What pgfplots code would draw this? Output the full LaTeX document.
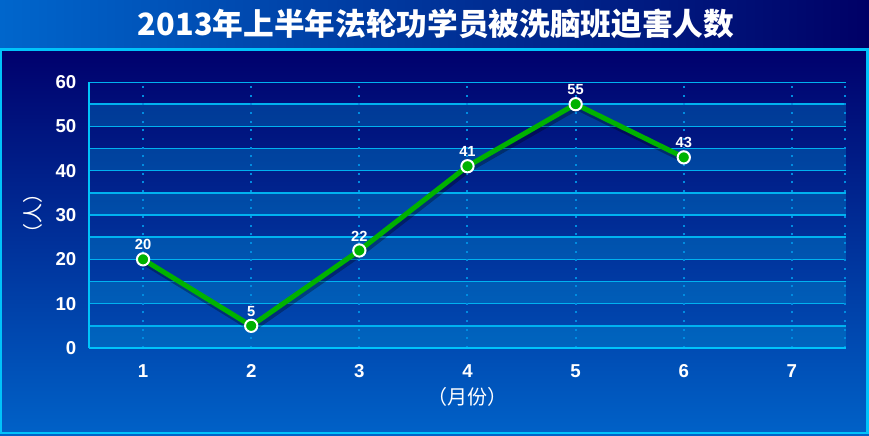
\documentclass[border=0pt]{standalone}
\usepackage{pgfplots}
\pgfplotsset{compat=1.18}
\usepackage{fontspec}
\setmainfont{Liberation Sans}
\newfontfamily\cjk{Noto Sans CJK SC}

\definecolor{titleL}{RGB}{0,102,204}
\definecolor{titleR}{RGB}{0,0,102}
\definecolor{panelT}{RGB}{0,0,108}
\definecolor{panelB}{RGB}{0,98,200}
\definecolor{edge}{RGB}{0,195,250}
\definecolor{gridc}{RGB}{0,178,240}
\definecolor{dotc}{RGB}{0,140,225}
\definecolor{bandc}{RGB}{0,160,220}
\definecolor{linec}{RGB}{0,178,0}

\begin{document}
\begin{tikzpicture}
  % page and background (1 px = 0.75 pt)
  \path[use as bounding box] (0pt,0pt) rectangle (651.75pt,327pt);
  \shade[left color=titleL, right color=titleR] (0pt,290.25pt) rectangle (651.75pt,327pt);
  \shade[top color=panelT, bottom color=panelB] (0pt,0pt) rectangle (651.75pt,290.25pt);
  \draw[edge, line width=1.6pt] (0.75pt,2.25pt) rectangle (650.6pt,289.9pt);
  \node[text=white, font=\cjk\bfseries\fontsize{23}{26}\selectfont] at (327pt,309pt) {2013年上半年法轮功学员被洗脑班迫害人数};

  \begin{axis}[
      at={(66.75pt,66pt)}, anchor=south west,
      scale only axis,
      width=567.75pt, height=199.5pt,
      xmin=0.5, xmax=7.5,
      ymin=0, ymax=60,
      xtick={1,...,7},
      ytick={0,10,...,60},
      axis x line*=bottom,
      axis y line*=left,
      axis line style={-, draw=edge, line width=2.2pt},
      axis on top,
      major tick length=0pt,
      /pgf/number format/assume math mode=true,
      ticklabel style={text=white, font=\bfseries\fontsize{14}{16}\selectfont},
      yticklabel style={xshift=-6pt},
      xticklabel style={yshift=-9pt},
      xlabel={\cjk（月份）},
      ylabel={\cjk（人）},
      label style={text=white, font=\fontsize{15}{17}\selectfont},
      xlabel style={at={(axis description cs:0.5,-0.184)}, anchor=center},
      ylabel style={at={(axis description cs:-0.074,0.504)}, anchor=center},
    ]
    % alternating bands
    \fill[bandc, opacity=0.3] (axis cs:0.5,0) rectangle (axis cs:7.5,5);
    \fill[bandc, opacity=0.3] (axis cs:0.5,10) rectangle (axis cs:7.5,15);
    \fill[bandc, opacity=0.3] (axis cs:0.5,20) rectangle (axis cs:7.5,25);
    \fill[bandc, opacity=0.3] (axis cs:0.5,30) rectangle (axis cs:7.5,35);
    \fill[bandc, opacity=0.3] (axis cs:0.5,40) rectangle (axis cs:7.5,45);
    \fill[bandc, opacity=0.3] (axis cs:0.5,50) rectangle (axis cs:7.5,55);
    % grid
    \pgfplotsinvokeforeach{5,10,...,60}{
      \draw[gridc, line width=1.1pt] (axis cs:0.5,#1) -- (axis cs:7.5,#1);
    }
    \pgfplotsinvokeforeach{1,2,...,7}{
      \draw[dotc, line width=1.5pt, dash pattern=on 1.5pt off 5pt] (axis cs:#1,0) -- (axis cs:#1,60);
    }
    \draw[dotc, line width=1.5pt, dash pattern=on 1.5pt off 5pt] (axis cs:7.49,0) -- (axis cs:7.49,60);

    % shadow
    \addplot[draw=black, opacity=0.3, line width=4pt, xshift=1pt, yshift=-2.5pt, forget plot]
      coordinates {(1,20) (2,5) (3,22) (4,41) (5,55) (6,43)};
    % series
    \addplot[
        draw=linec, line width=3.75pt,
        mark=*, mark size=4.6pt,
        mark options={fill=linec, draw=white, line width=1.5pt},
        nodes near coords,
        every node near coord/.append style={text=white, anchor=south, yshift=3pt,
          font=\bfseries\fontsize{11}{13}\selectfont},
      ] coordinates {(1,20) (2,5) (3,22) (4,41) (5,55) (6,43)};
  \end{axis}
\end{tikzpicture}
\end{document}
